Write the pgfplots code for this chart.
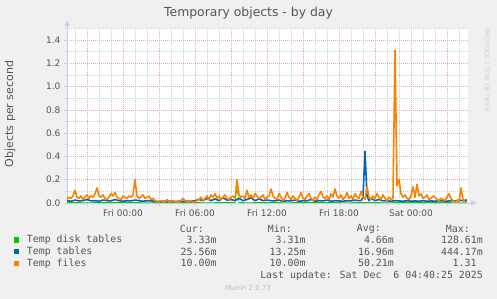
\documentclass[border=0pt]{standalone}
\usepackage{pgfplots}
\pgfplotsset{compat=1.18}
\usepackage{fontspec}
\setmainfont{DejaVu Sans}
\newfontfamily\mono{DejaVu Sans Mono}
\usetikzlibrary{arrows.meta}
\definecolor{bgc}{HTML}{F0F0F0}
\definecolor{cgreen}{HTML}{00CC00}
\definecolor{cblue}{HTML}{0066B3}
\definecolor{corange}{HTML}{FF8000}
\definecolor{txt}{HTML}{555555}
\definecolor{axc}{HTML}{C4CCF0}
\definecolor{majg}{HTML}{E6A8A8}
\definecolor{ming}{HTML}{CCCCCC}
\begin{document}
\begin{tikzpicture}[x=1pt,y=1pt]
\fill[bgc] (0,0) rectangle (497,299);
\begin{axis}[at={(67pt,96pt)}, anchor=south west, scale only axis,
 width=401pt, height=174.6pt, xmin=0, xmax=200.5, ymin=0, ymax=1.5,
 axis background/.style={fill=white},
 axis x line=bottom, axis y line=left,
 axis line style={draw=axc, line width=0.8pt},
 x axis line style={-{Triangle[width=5pt,length=6pt]}, shorten >=-9pt},
 y axis line style={-{Triangle[width=5pt,length=6pt]}, shorten >=-8pt},
 xtick={10,28,46,64,82,100,118,136,154,172,190},
 xticklabels={,Fri 00:00,,Fri 06:00,,Fri 12:00,,Fri 18:00,,Sat 00:00,},
 minor xtick={4,16,22,34,40,52,58,70,76,88,94,106,112,124,130,142,148,160,166,178,184,196},
 ytick={0,0.2,0.4,0.6,0.8,1.0,1.2,1.4},
 minor ytick={0.1,0.3,0.5,0.7,0.9,1.1,1.3,1.5},
 grid=both,
 major grid style={draw=majg, dash pattern=on 1pt off 1pt, line width=0.5pt},
 minor grid style={draw=ming, dash pattern=on 1pt off 1pt, line width=0.5pt},
 tick style={draw=axc, line width=0.6pt}, tick align=outside,
 major tick length=3pt, minor tick length=2pt,
 /pgf/number format/assume math mode=true,
 ticklabel style={font=\fontsize{9}{10}\selectfont, text=txt},
 yticklabel style={/pgf/number format/fixed, /pgf/number format/fixed zerofill, /pgf/number format/precision=1},
]
\addplot[cgreen, line width=0.6pt, mark=none] coordinates {
(0,0.004) (10,0.005) (20,0.004) (30,0.004) (40,0.005) (50,0.004) (60,0.004) (70,0.005)
(84,0.004) (85,0.128) (86,0.004) (90,0.005) (100,0.004) (110,0.005) (120,0.004) (130,0.004)
(140,0.005) (150,0.004) (160,0.005) (170,0.004) (180,0.004) (190,0.004) (200,0.0033)};
\addplot[cblue, line width=1.6pt, line join=round, mark=none] coordinates {
(0,0.02) (2,0.015) (4,0.025) (6,0.018) (8,0.02) (10,0.03) (12,0.018) (14,0.02) (16,0.015) (18,0.025)
(20,0.02) (22,0.018) (24,0.03) (26,0.02) (28,0.015) (30,0.02) (32,0.018) (34,0.025) (36,0.02) (38,0.015)
(40,0.02) (42,0.018) (44,0.015) (46,0.014) (48,0.015) (50,0.014) (52,0.016) (54,0.014) (56,0.015) (58,0.014)
(60,0.016) (62,0.015) (64,0.02) (66,0.03) (68,0.02) (70,0.04) (72,0.02) (74,0.035) (76,0.02) (78,0.045)
(80,0.025) (82,0.03) (84,0.02) (86,0.04) (88,0.02) (90,0.03) (92,0.045) (94,0.02) (96,0.035) (98,0.02)
(100,0.025) (102,0.02) (104,0.018) (106,0.025) (108,0.015) (110,0.02) (112,0.018) (114,0.025) (116,0.015) (118,0.02)
(120,0.018) (122,0.03) (124,0.015) (126,0.02) (128,0.018) (130,0.025) (132,0.015) (134,0.02) (136,0.018) (138,0.015)
(140,0.02) (142,0.018) (144,0.025) (146,0.02) (147,0.02) (148,0.05) (149,0.444) (150,0.06) (151,0.02) (152,0.04)
(154,0.02) (156,0.03) (158,0.018) (160,0.02) (162,0.015) (164,0.02) (166,0.018) (168,0.015) (170,0.02) (172,0.015)
(174,0.018) (176,0.015) (178,0.02) (180,0.015) (182,0.018) (184,0.015) (186,0.02) (188,0.018) (190,0.015) (192,0.02)
(194,0.018) (196,0.025) (198,0.02) (200,0.026)};
\addplot[corange, line width=1.6pt, line join=round, mark=none] table[x expr=\coordindex, y=v, row sep=\\] {
v\\
0.03\\ 0.05\\ 0.04\\ 0.06\\ 0.11\\
0.05\\ 0.04\\ 0.06\\ 0.03\\ 0.05\\ 0.07\\ 0.04\\ 0.06\\ 0.05\\ 0.08\\
0.13\\
0.06\\ 0.05\\ 0.07\\ 0.04\\ 0.03\\ 0.05\\ 0.08\\ 0.06\\ 0.09\\ 0.05\\ 0.04\\ 0.03\\ 0.06\\ 0.05\\ 0.04\\ 0.06\\ 0.05\\ 0.07\\
0.20\\
0.06\\ 0.04\\ 0.05\\ 0.07\\ 0.04\\ 0.05\\ 0.06\\ 0.03\\ 0.04\\
0.02\\ 0.01\\ 0.01\\ 0.02\\ 0.01\\ 0.01\\ 0.03\\ 0.01\\ 0.01\\ 0.02\\ 0.01\\ 0.01\\ 0.01\\ 0.02\\ 0.04\\ 0.02\\ 0.01\\ 0.01\\ 0.02\\ 0.01\\ 0.01\\ 0.02\\
0.03\\ 0.05\\ 0.02\\ 0.04\\ 0.06\\ 0.03\\ 0.07\\ 0.05\\ 0.08\\ 0.04\\ 0.06\\ 0.03\\ 0.05\\ 0.07\\ 0.04\\ 0.03\\ 0.05\\ 0.06\\ 0.04\\
0.20\\
0.07\\ 0.05\\ 0.06\\ 0.04\\
0.11\\
0.05\\ 0.07\\ 0.04\\ 0.08\\ 0.06\\ 0.04\\ 0.05\\ 0.07\\ 0.03\\ 0.05\\ 0.06\\
0.12\\
0.06\\ 0.04\\ 0.03\\ 0.08\\ 0.05\\ 0.02\\ 0.04\\ 0.09\\ 0.05\\ 0.03\\ 0.06\\ 0.04\\ 0.02\\ 0.05\\ 0.09\\ 0.04\\ 0.03\\ 0.06\\ 0.08\\ 0.04\\
0.02\\ 0.05\\ 0.03\\ 0.07\\ 0.10\\ 0.05\\ 0.04\\ 0.06\\ 0.03\\ 0.08\\ 0.05\\ 0.12\\ 0.06\\ 0.04\\ 0.07\\ 0.03\\ 0.05\\ 0.09\\ 0.04\\ 0.06\\
0.03\\ 0.08\\ 0.05\\ 0.04\\ 0.10\\ 0.05\\ 0.03\\
0.14\\ 0.05\\ 0.03\\ 0.06\\ 0.04\\ 0.08\\ 0.05\\ 0.03\\ 0.07\\ 0.04\\ 0.02\\ 0.05\\ 0.03\\ 0.04\\
1.31\\
0.15\\ 0.20\\ 0.08\\
0.05\\ 0.07\\ 0.04\\ 0.03\\ 0.06\\ 0.14\\ 0.05\\ 0.16\\ 0.06\\ 0.08\\ 0.04\\ 0.05\\ 0.07\\ 0.03\\ 0.04\\ 0.06\\ 0.05\\ 0.03\\ 0.02\\ 0.04\\
0.03\\ 0.02\\ 0.05\\ 0.08\\ 0.04\\ 0.02\\ 0.01\\ 0.02\\ 0.01\\ 0.13\\ 0.03\\ 0.01\\ 0.01\\
};
\draw[axc, line width=0.8pt, -{Triangle[width=5pt,length=6pt]}] (axis cs:0,0) -- ([xshift=9pt]axis cs:200.5,0);
\end{axis}
% title and labels
\node[text=txt, font=\fontsize{12.4}{14}\selectfont] at (248.5,286) {Temporary objects - by day};
\node[text=txt, font=\fontsize{11}{13}\selectfont, rotate=90] at (10,185) {Objects per second};
\node[text=black!18, font=\fontsize{6.5}{7}\selectfont, rotate=-90] at (487,229) {RRDTOOL / TOBI OETIKER};
% legend
\begin{scope}[every node/.style={text=txt, font=\mono\fontsize{9.9}{11}\selectfont, inner sep=0pt}]
\node[anchor=east] at (204,70) {Cur:};
\node[anchor=east] at (292,70) {Min:};
\node[anchor=east] at (381,70) {Avg:};
\node[anchor=east] at (470,70) {Max:};
\fill[cgreen] (13.8,56.2) rectangle (19.3,61.7);
\fill[cblue] (13.8,44.5) rectangle (19.3,50);
\fill[corange] (13.8,32.9) rectangle (19.3,38.4);
\node[anchor=west] at (26.7,59) {Temp disk tables};
\node[anchor=west] at (26.7,47.3) {Temp tables};
\node[anchor=west] at (26.7,35.7) {Temp files};
\node[anchor=east] at (216.7,59) {3.33m};
\node[anchor=east] at (305.7,59) {3.31m};
\node[anchor=east] at (394,59) {4.66m};
\node[anchor=east] at (483,59) {128.61m};
\node[anchor=east] at (216.7,47.3) {25.56m};
\node[anchor=east] at (305.7,47.3) {13.25m};
\node[anchor=east] at (394,47.3) {16.96m};
\node[anchor=east] at (483,47.3) {444.17m};
\node[anchor=east] at (216.7,35.7) {10.00m};
\node[anchor=east] at (305.7,35.7) {10.00m};
\node[anchor=east] at (394,35.7) {50.21m};
\node[anchor=east] at (476.7,35.7) {1.31};
\node[anchor=east] at (483,23.3) {Last update: Sat Dec\ \ 6 04:40:25 2025};
\end{scope}
\node[text=black!25, font=\fontsize{7}{8}\selectfont] at (248,10.7) {Munin 2.0.73};
\end{tikzpicture}
\end{document}
